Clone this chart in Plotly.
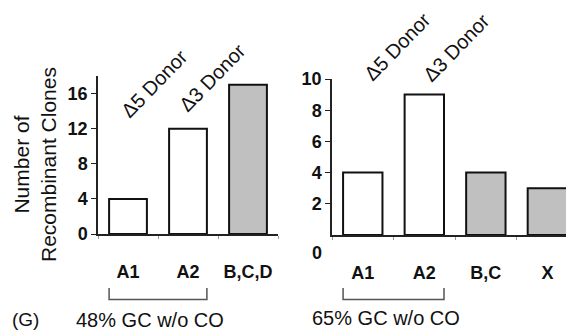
import plotly.graph_objects as go

# ---- data ----
left_cats = ["A1", "A2", "B,C,D"]
left_vals = [4, 12, 17]
left_colors = ["white", "white", "#c0c0c0"]
left_ticks = [0, 4, 8, 12, 16]

right_cats = ["A1", "A2", "B,C", "X"]
right_vals = [4, 9, 4, 3]
right_colors = ["white", "white", "#c0c0c0", "#c0c0c0"]
right_ticks = [2, 4, 6, 8, 10]

donor_labels = ["\u03945 Donor", "\u03943 Donor"]
y_title = "Number of<br>Recombinant Clones"
captions = ["48% GC w/o CO", "65% GC w/o CO"]
panel_label = "(G)"

# the page body has an 8px margin; the figure is sized to fit the window
OFF = 8
W, H = 574 - OFF, 331 - OFF
FONT = "Liberation Sans, Arial, sans-serif"


def px(x):
    return (x - OFF) / W


def py(y):
    return 1 - (y - OFF) / H


fig = go.Figure()
fig.add_trace(go.Bar(x=left_cats, y=left_vals, width=0.63,
                     marker=dict(color=left_colors, line=dict(color="#111", width=2)),
                     xaxis="x", yaxis="y", hoverinfo="skip"))
fig.add_trace(go.Bar(x=right_cats, y=right_vals, width=0.64,
                     marker=dict(color=right_colors, line=dict(color="#111", width=2)),
                     xaxis="x2", yaxis="y2", hoverinfo="skip"))

xcommon = dict(type="category", showline=True, linecolor="#222", linewidth=1.5,
               ticks="outside", tickson="boundaries", ticklen=3, tickcolor="#999",
               tickangle=0,
               tickfont=dict(family=FONT, size=18, color="#111", weight="bold"),
               ticklabelstandoff=21, showgrid=False, zeroline=False, fixedrange=True,
               automargin=False)
ycommon = dict(showline=True, linecolor="#222", linewidth=1.5, ticks="outside",
               ticklen=5, tickcolor="#222", showgrid=False, zeroline=False,
               tickfont=dict(family=FONT, size=18, color="#111", weight="bold"),
               fixedrange=True, automargin=False)

fig.update_layout(
    template="none",
    width=W, height=H, margin=dict(l=0, r=0, t=0, b=0, pad=0), autosize=False,
    paper_bgcolor="white", plot_bgcolor="white", showlegend=False,
    font=dict(family=FONT, color="#111"),
    xaxis=dict(domain=[px(98), px(278)], range=[-0.5, 2.5], anchor="y", **xcommon),
    yaxis=dict(domain=[py(234), py(76)], range=[0, 18], tickvals=left_ticks,
               anchor="x", **ycommon),
    xaxis2=dict(domain=[px(332), px(572)], range=[-0.5, 3.4], anchor="y2", **xcommon),
    yaxis2=dict(domain=[py(235), py(79)], range=[0, 10], tickvals=right_ticks,
                anchor="x2", **ycommon),
)


def label(text, x, y, size, angle=0, **kw):
    d = dict(text=text, x=px(x), y=py(y), xref="paper", yref="paper",
             xanchor="center", yanchor="middle", textangle=angle, showarrow=False,
             font=dict(family=FONT, size=size, color="#111"))
    d.update(kw)
    return d


ann = []
# y axis title
ann.append(label(y_title, 35, 165, 21, angle=-90))
# donor labels
for (cx, cy), t in zip([(154, 84), (212, 78)], donor_labels):
    ann.append(label(t, cx, cy, 20, angle=-46))
for (cx, cy), t in zip([(397, 47), (456, 48)], donor_labels):
    ann.append(label(t, cx, cy, 20, angle=-46))
# displaced zero on right axis
ann.append(dict(text="<b>0</b>", x=px(324), y=0, xref="paper", yref="y2", xanchor="right",
                yanchor="middle", yshift=-18, showarrow=False,
                font=dict(family=FONT, size=18, color="#111")))
# captions
ann.append(label(panel_label, 25, 319, 19))
ann.append(label(captions[0], 150, 320, 20))
ann.append(label(captions[1], 386, 318, 20))
fig.update_layout(annotations=ann)

# brackets under A1..A2
shapes = []
for xr, w in [("x", 0.63), ("x2", 0.64)]:
    x0 = 0 - w / 2
    x1 = 1 + w / 2
    shapes.append(dict(type="path", xref=xr, yref="paper",
                       path=f"M {x0},{py(288)} L {x0},{py(299.5)} L {x1},{py(299.5)} L {x1},{py(288)}",
                       line=dict(color="#555", width=1.5)))
fig.update_layout(shapes=shapes)

fig.write_html("out.html")
